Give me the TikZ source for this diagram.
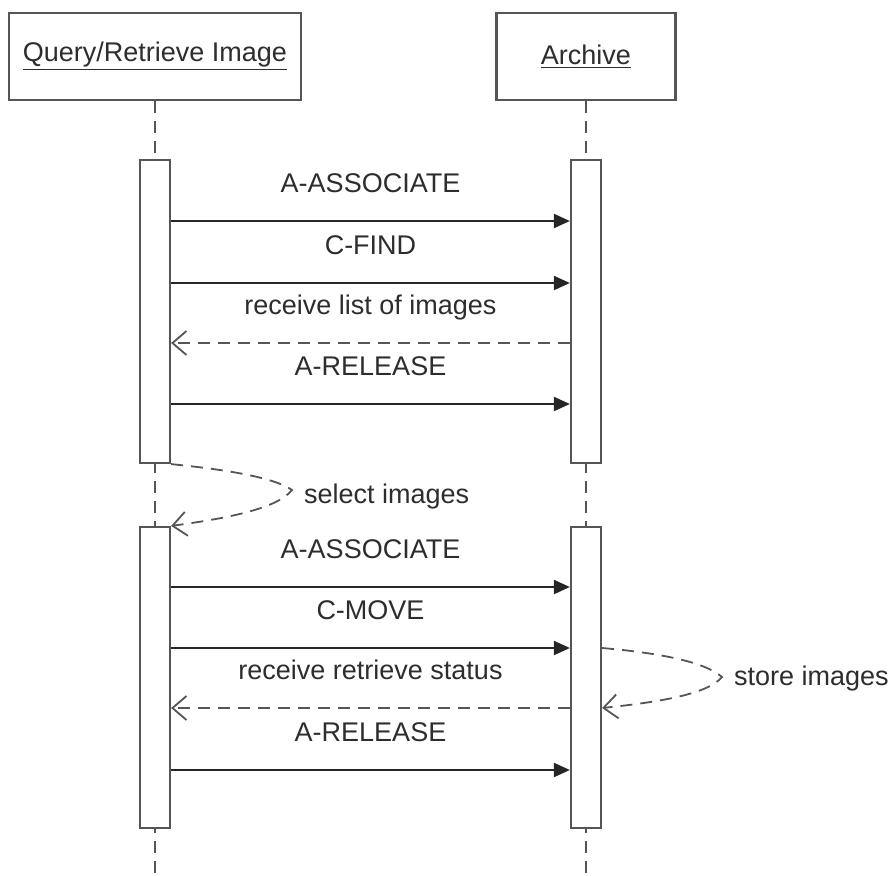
\documentclass[tikz,border=0pt]{standalone}
\usepackage{fontspec}
\setmainfont{Liberation Sans}
\usetikzlibrary{arrows.meta}
\definecolor{linegray}{RGB}{85,85,85}
\definecolor{textgray}{RGB}{45,45,45}

\begin{document}
\begin{tikzpicture}[x=0.5pt,y=-0.5pt,
    every node/.style={font=\fontsize{13.5}{16}\selectfont, text=textgray},
    head/.style={draw=linegray, line width=1.1pt, fill=white, minimum height=43.5pt, inner sep=0pt},
    bar/.style={draw=linegray, line width=1.1pt, fill=white, minimum width=15pt, inner sep=0pt},
    life/.style={draw=linegray, line width=1pt, dash pattern=on 6pt off 4pt},
    msg/.style={draw=black!85, line width=1pt, -{Triangle[length=8pt,width=7pt]}},
    reply/.style={draw=linegray, line width=0.9pt, dash pattern=on 6pt off 4pt, -{Straight Barb[length=7pt,width=12pt]}},
    lbl/.style={midway, anchor=base, yshift=14.5pt}]

          \useasboundingbox (0,0) rectangle (890,875);

          \node[head, minimum width=146pt] (qr) at (155,56.5) {\underline{Query/Retrieve Image}};
          \node[head, minimum width=89.5pt] (ar) at (586,56.5) {\underline{Archive}};

          \coordinate (qend) at (155,875);
          \coordinate (aend) at (586,875);
          \draw[life] (qr.south) -- (qend);
          \draw[life] (ar.south) -- (aend);

          \node[bar, minimum height=151.5pt] (qa1) at (155,311.5) {};
          \node[bar, minimum height=150.5pt] (qa2) at (155,677.5) {};
          \node[bar, minimum height=151.5pt] (aa1) at (586,311.5) {};
          \node[bar, minimum height=150.5pt] (aa2) at (586,677.5) {};

          \coordinate (m1) at (0,221);
          \coordinate (m2) at (0,283);
          \coordinate (m3) at (0,343);
          \coordinate (m4) at (0,404);
          \coordinate (m5) at (0,587);
          \coordinate (m6) at (0,648);
          \coordinate (m7) at (0,708);
          \coordinate (m8) at (0,770);

          \draw[msg] (qa1.east |- m1) -- (aa1.west |- m1) node[lbl] {A-ASSOCIATE};
          \draw[msg] (qa1.east |- m2) -- (aa1.west |- m2) node[lbl] {C-FIND};
          \draw[reply] (aa1.west |- m3) -- (qa1.east |- m3) node[lbl] {receive list of images};
          \draw[msg] (qa1.east |- m4) -- (aa1.west |- m4) node[lbl] {A-RELEASE};

          % self calls
          \coordinate (t1) at (292,490);
          \draw[reply] (qa1.south east) .. controls (230,470) and (275,478) .. (t1)
                                        .. controls (278,508) and (230,518) .. (qa2.north east);
          \node[anchor=base west] (sel) at (297,503) {select images};

          \draw[msg] (qa2.east |- m5) -- (aa2.west |- m5) node[lbl] {A-ASSOCIATE};
          \draw[msg] (qa2.east |- m6) -- (aa2.west |- m6) node[lbl] {C-MOVE};
          \draw[reply] (aa2.west |- m7) -- (qa2.east |- m7) node[lbl] {receive retrieve status};
          \draw[msg] (qa2.east |- m8) -- (aa2.west |- m8) node[lbl] {A-RELEASE};

          \coordinate (t2) at (722,677);
          \draw[reply] (aa2.east |- m6) .. controls (660,653) and (705,662) .. (t2)
                                        .. controls (708,694) and (660,702) .. (aa2.east |- m7);
          \node[anchor=base west] (sto) at (727,685) {store images};
        \end{tikzpicture}
\end{document}
